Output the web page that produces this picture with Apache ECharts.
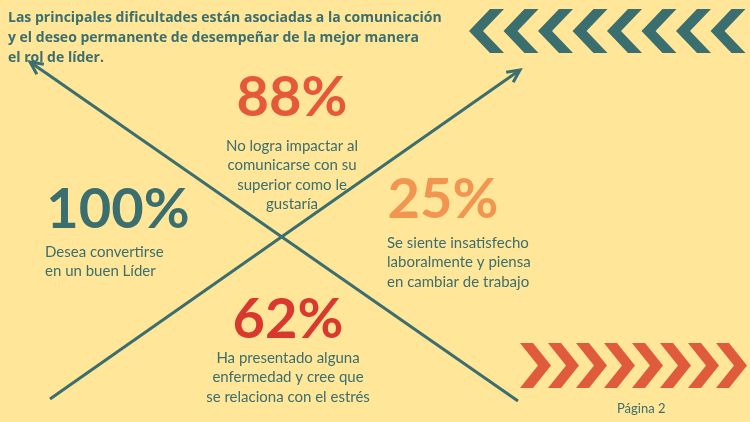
<!DOCTYPE html>
<html><head><meta charset="utf-8">
<script src="https://cdn.jsdelivr.net/npm/echarts@6/dist/echarts.min.js"></script>
<style>html,body{margin:0;padding:0;background:#FFE699}#c{width:750px;height:422px}</style>
</head><body><div id="c"></div>
<script>
const titleLines = ["Las principales dificultades están asociadas a la comunicación","y el deseo permanente de desempeñar de la mejor manera","el rol de líder."];
const stats = ["88%","100%","25%","62%"];
const captions = [
  ["No logra impactar al","comunicarse con su","superior como le","gustaría"],
  ["Desea convertirse","en un buen Líder"],
  ["Se siente insatisfecho","laboralmente y piensa","en cambiar de trabajo"],
  ["Ha presentado alguna","enfermedad y cree que","se relaciona con el estrés"]
];
const pageLabel = "Página 2";

const TEAL="#3B6E6E", FONT="Lato, 'Open Sans', sans-serif";
const statStyle=[
 {x:292,y:98,align:'center',color:'#E5593A',cx:292,cy:146,calign:'center'},
 {x:118,y:210,align:'center',color:'#3B6E6E',cx:45,cy:252,calign:'left'},
 {x:443,y:200,align:'center',color:'#F29550',cx:387,cy:243,calign:'left'},
 {x:288,y:320,align:'center',color:'#D8382D',cx:288,cy:358,calign:'center'}
];
const g=[];
g.push({type:'rect',shape:{x:0,y:0,width:750,height:422},style:{fill:'#FFE699'},z:0});
function chev(x,y0,h,t,th,dir,color){
  const ym=y0+h/2,y1=y0+h;
  let pts=[[x,ym],[x+t,y0],[x+t+th,y0],[x+th,ym],[x+t+th,y1],[x+t,y1]];
  if(dir>0) pts=pts.map(p=>[2*x+t+th-p[0],p[1]]);
  return {type:'polygon',shape:{points:pts},style:{fill:color},z:1};
}
for(let i=0;i<8;i++) g.push(chev(469+i*34.5,9,44,21,14,-1,TEAL));
for(let i=0;i<8;i++) g.push(chev(520+i*28,343,45,18,13,1,'#E05A3C'));
function arrow(x1,y1,x2,y2){
  const a=Math.atan2(y2-y1,x2-x1),L=14,w=0.45;
  g.push({type:'line',shape:{x1,y1,x2:x2-Math.cos(a)*4,y2:y2-Math.sin(a)*4},style:{stroke:TEAL,lineWidth:3},z:2});
  g.push({type:'polyline',shape:{points:[[x2-L*Math.cos(a-w),y2-L*Math.sin(a-w)],[x2,y2],[x2-L*Math.cos(a+w),y2-L*Math.sin(a+w)]]},style:{stroke:TEAL,lineWidth:3,fill:null},z:2});
}
arrow(50,399,520,70);
arrow(518,401,30,62);
const titleWidth=437;
titleLines.forEach((t,i)=>{
  const el={type:'text',x:8,y:18+i*20,style:{text:t,font:"bold 14px 'Open Sans', sans-serif",fill:TEAL,textVerticalAlign:'middle'},z:3};
  g.push(el);
});
stats.forEach((s,i)=>{
  const st=statStyle[i];
  g.push({type:'text',x:st.x,y:st.y,style:{text:s,font:'bold 56px '+FONT,fill:st.color,textAlign:'center',textVerticalAlign:'middle'},z:3});
  captions[i].forEach((c,j)=>g.push({type:'text',x:st.cx,y:st.cy+j*19.5,style:{text:c,font:'15px '+FONT,fill:TEAL,textAlign:st.calign,textVerticalAlign:'middle'},z:3}));
});
g.push({type:'text',x:617,y:409,style:{text:pageLabel,font:'13px '+FONT,fill:TEAL,textVerticalAlign:'middle'},z:3});
const chart=echarts.init(document.getElementById('c'));
chart.setOption({backgroundColor:'#FFE699',animation:false,graphic:g});
</script></body></html>
